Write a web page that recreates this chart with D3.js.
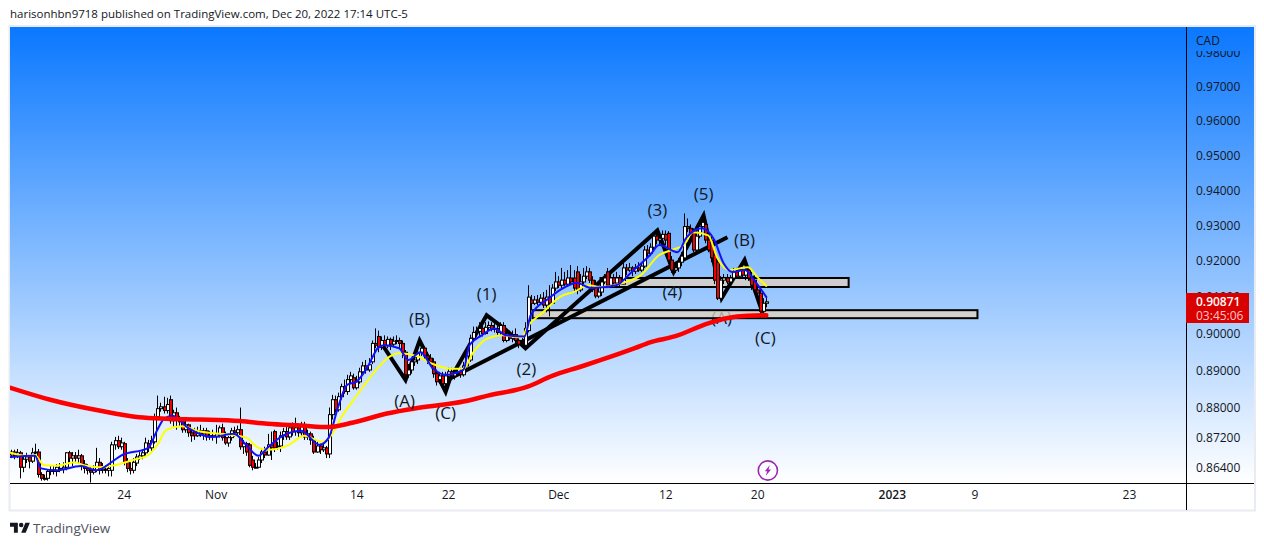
<!DOCTYPE html>
<html><head><meta charset="utf-8">
<script src="https://cdn.jsdelivr.net/npm/d3@7"></script>
<style>html,body{margin:0;padding:0;background:#fff;overflow:hidden}svg{display:block}text{font-family:"Open Sans",sans-serif}</style>
</head><body><svg id="c" width="1264" height="546"></svg>
<script>
// all prices in 1e-4 units of CAD
const opens=[8674,8682,8672,8680,8642,8663,8669,8658,8680,8682,8623,8613,8613,8631,8634,8631,8639,8637,8642,8680,8666,8672,8666,8672,8650,8639,8634,8629,8634,8655,8634,8637,8634,8634,8701,8712,8696,8704,8655,8639,8634,8653,8666,8672,8680,8704,8693,8709,8776,8797,8802,8792,8821,8765,8786,8768,8762,8741,8754,8733,8733,8725,8738,8730,8738,8722,8725,8722,8730,8746,8720,8706,8720,8738,8733,8741,8696,8704,8701,8661,8642,8642,8661,8682,8674,8701,8736,8698,8698,8725,8736,8722,8746,8736,8746,8733,8749,8722,8730,8714,8682,8698,8688,8693,8677,8781,8821,8794,8829,8856,8843,8875,8880,8853,8869,8896,8912,8901,8923,8973,8992,8963,8981,8968,8984,8971,8979,8981,8973,8949,8888,8901,8923,8928,8949,8960,8939,8933,8923,8891,8875,8885,8864,8885,8896,8885,8893,8896,8888,8912,8928,8987,9003,9006,9014,9000,9017,9022,9011,9014,9003,9022,8981,8997,8987,8997,8981,8971,8968,9008,9092,9083,9092,9086,9097,9078,9100,9083,9125,9142,9133,9147,9136,9153,9153,9170,9120,9142,9158,9170,9147,9131,9103,9114,9142,9170,9133,9153,9139,9153,9136,9181,9175,9181,9172,9181,9175,9186,9231,9222,9239,9270,9259,9264,9275,9278,9203,9175,9181,9197,9209,9297,9292,9281,9231,9270,9297,9303,9259,9259,9217,9197,9097,9147,9153,9142,9153,9170,9158,9175,9161,9175,9158,9147,9120,9111,9061,9083];
const closes=[8682,8672,8680,8642,8663,8669,8658,8680,8682,8623,8613,8613,8631,8634,8631,8642,8637,8642,8680,8666,8672,8666,8672,8650,8639,8634,8629,8634,8655,8634,8637,8634,8639,8701,8712,8696,8706,8655,8639,8634,8655,8669,8672,8680,8706,8693,8712,8776,8797,8802,8792,8808,8765,8786,8768,8762,8741,8754,8733,8725,8725,8738,8730,8738,8722,8725,8722,8730,8746,8720,8706,8720,8738,8733,8741,8696,8704,8682,8647,8642,8642,8661,8682,8674,8701,8693,8693,8698,8725,8736,8722,8746,8736,8746,8733,8749,8722,8730,8714,8682,8698,8688,8693,8677,8781,8821,8794,8829,8856,8843,8875,8885,8853,8869,8896,8912,8901,8915,8973,8968,8963,8981,8968,8984,8971,8979,8981,8973,8949,8888,8901,8923,8928,8949,8960,8939,8933,8923,8891,8869,8885,8864,8885,8896,8885,8893,8896,8888,8912,8939,8987,9003,9006,9014,9000,9017,9022,9011,9014,9003,9022,8981,8997,8987,8997,8981,8971,8973,9014,9100,9083,9092,9086,9097,9078,9100,9083,9125,9142,9133,9147,9136,9153,9142,9125,9120,9142,9158,9170,9147,9125,9103,9114,9142,9153,9133,9153,9139,9153,9136,9181,9175,9181,9172,9181,9175,9186,9231,9222,9239,9270,9259,9264,9275,9259,9203,9175,9181,9197,9214,9297,9292,9270,9231,9270,9297,9309,9259,9231,9209,9147,9097,9147,9153,9142,9153,9170,9158,9175,9161,9175,9153,9133,9120,9111,9061,9083,9087];
const highs=[8688,8688,8690,8685,8672,8680,8674,8693,8704,8690,8629,8623,8637,8645,8647,8650,8653,8655,8682,8685,8682,8682,8688,8677,8661,8650,8645,8647,8693,8666,8653,8647,8650,8709,8722,8725,8720,8709,8666,8655,8666,8677,8682,8688,8720,8714,8725,8784,8832,8813,8829,8826,8832,8794,8800,8778,8770,8768,8757,8741,8746,8749,8754,8746,8746,8738,8741,8754,8752,8757,8736,8725,8746,8749,8752,8800,8714,8709,8706,8672,8653,8669,8690,8696,8730,8736,8741,8709,8736,8746,8752,8752,8760,8773,8757,8762,8762,8741,8736,8725,8709,8704,8704,8698,8800,8834,8832,8840,8864,8875,8888,8896,8891,8885,8907,8923,8928,8933,8981,9014,9008,8992,8995,8992,8989,8992,8995,8989,8981,8955,8917,8933,8939,8965,8968,8965,8949,8944,8933,8901,8896,8896,8896,8907,8907,8901,8907,8907,8923,8949,8997,9019,9019,9031,9036,9031,9033,9031,9028,9025,9031,9031,9008,9008,9008,9014,8992,8989,9031,9133,9106,9103,9106,9108,9114,9120,9133,9136,9170,9158,9181,9170,9175,9189,9175,9186,9164,9181,9186,9181,9158,9147,9131,9153,9164,9181,9170,9164,9170,9161,9197,9192,9195,9186,9192,9197,9197,9242,9245,9250,9281,9281,9281,9286,9286,9284,9214,9197,9209,9225,9334,9320,9303,9292,9281,9309,9325,9320,9270,9270,9225,9209,9158,9164,9164,9161,9181,9181,9186,9189,9197,9181,9170,9161,9133,9125,9097,9100];
const lows=[8666,8663,8666,8613,8629,8653,8639,8653,8672,8615,8607,8607,8607,8621,8623,8618,8629,8626,8634,8655,8645,8653,8653,8634,8626,8623,8602,8623,8629,8623,8626,8626,8618,8618,8688,8690,8688,8647,8629,8623,8626,8645,8661,8663,8672,8682,8680,8704,8768,8789,8784,8784,8757,8746,8741,8749,8733,8733,8722,8709,8714,8722,8722,8714,8712,8714,8712,8704,8720,8712,8701,8696,8712,8722,8725,8688,8677,8672,8642,8634,8639,8639,8653,8666,8672,8661,8682,8688,8682,8714,8714,8714,8725,8725,8722,8725,8714,8714,8701,8677,8680,8677,8682,8666,8666,8768,8786,8789,8821,8837,8834,8864,8848,8848,8864,8891,8891,8896,8917,8960,8949,8955,8960,8960,8955,8965,8971,8960,8933,8880,8880,8891,8912,8917,8939,8928,8917,8912,8880,8859,8864,8853,8848,8875,8875,8875,8885,8880,8883,8907,8923,8981,8992,8992,8992,8997,9008,9006,9003,8992,8997,8976,8976,8981,8976,8968,8960,8965,8963,9003,9064,9078,9078,9081,9070,9058,9047,9081,9117,9125,9125,9131,9128,9136,9114,9108,9114,9136,9150,9139,9114,9097,9097,9103,9136,9125,9125,9131,9125,9131,9136,9161,9170,9158,9164,9170,9170,9181,9209,9214,9231,9247,9247,9253,9245,9192,9167,9167,9170,9186,9203,9281,9259,9225,9225,9264,9292,9250,9225,9197,9136,9092,9092,9136,9136,9131,9147,9153,9150,9153,9147,9145,9120,9114,9100,9042,9053,9072];

const redBars=[0,13,29,42,51,62,75,84,95,104,112,123,134,148,156,169,177,186,193,204,209,217,228,234,241,247];
const redVals=[8853,8821,8792,8774,8770,8768,8764,8757,8752,8748,8760,8784,8800,8816,8832,8856,8885,8909,8928,8960,8976,8992,9028,9042,9049,9050];
const yellowBars=[0,5,8,11,15,21,24,29,34,40,45,48,51,56,62,71,77,81,84,91,96,102,105,108,111,115,120,124,127,133,138,144,148,151,156,161,167,169,174,180,184,189,193,200,206,212,216,220,223,228,231,235,241,244,247];
const yellowVals=[8680,8672,8674,8647,8646,8655,8647,8642,8647,8661,8674,8701,8741,8750,8736,8728,8720,8693,8688,8701,8725,8709,8728,8773,8808,8853,8906,8938,8946,8938,8917,8904,8904,8946,8987,8995,8989,9019,9058,9103,9114,9133,9128,9139,9161,9217,9231,9245,9281,9272,9209,9175,9183,9156,9131];
const blueBars=[0,8,10,15,23,28,34,36,45,48,50,53,58,66,73,77,81,84,88,95,101,104,107,110,113,117,120,122,127,130,134,138,142,148,150,154,158,162,168,170,176,180,185,190,198,203,209,212,218,221,226,230,233,236,240,243,247];
const blueVals=[8669,8672,8639,8634,8645,8634,8661,8672,8693,8741,8768,8778,8746,8722,8730,8701,8672,8693,8720,8738,8701,8720,8800,8861,8869,8914,8960,8968,8960,8928,8949,8906,8888,8901,8968,8995,9014,8995,8992,9050,9097,9122,9139,9125,9133,9170,9217,9245,9225,9267,9292,9259,9195,9170,9175,9147,9100];

const waveBars=[121.6,129.1,133.7,142.2,143.5,155.6,161.8,168.3,211.4,216.7,226.5,232.4,239.9,245.8];
const waveVals=[8968,8874,8981,8842,8874,9050,9011,8960,9286,9170,9328,9097,9203,9056];
const trendBars=[142.2,234.3];
const trendVals=[8872,9267];
const zoneBars=[[192.8,273.9],[170.6,316]];
const zoneVals=[[9153,9128],[9064,9042]];
const labelTexts=["(1)","(B)","(A)","(C)","(2)","(3)","(4)","(5)","(B)","(C)"];
const labelBars=[155.6,133.7,128.8,142.2,168.6,211.4,216.3,226.5,239.9,246.7];
const labelVals=[9108,9039,8818,8786,8904,9345,9114,9390,9259,8987];
const hiddenLabel={text:"(A)",bar:232.4,val:9042};

const priceTicks=[0.98,0.97,0.96,0.95,0.94,0.93,0.92,0.91,0.90,0.89,0.88,0.872,0.864];
const timeLabels=["24","Nov","14","22","Dec","12","20","2023","9","23"];
const timeBars=[37,67,113,143,179,214,244,288,315,365.5];
const lastPrice="0.90871", countdown="03:45:06", currency="CAD";
const title="harisonhbn9718 published on TradingView.com, Dec 20, 2022 17:14 UTC-5";

const L=10,R=1254,T=27,B=483,AX=1186,BOT=510;
const svg=d3.select("#c");
const x=d3.scaleLinear().domain([0,1]).range([10.5,13.56]);
const y=d3.scaleLog().domain([0.864,0.98]).range([468,53]);
const P=v=>y(v/10000);

const defs=svg.append("defs");
const g=defs.append("linearGradient").attr("id","bg").attr("x1",0).attr("x2",0).attr("y1",0).attr("y2",1);
g.append("stop").attr("offset",0).attr("stop-color","#0a78ff");
g.append("stop").attr("offset",1).attr("stop-color","#ffffff");
defs.append("clipPath").attr("id","plot").append("rect").attr("x",L).attr("y",T).attr("width",AX-L).attr("height",B-T);
defs.append("clipPath").attr("id","ax").append("rect").attr("x",AX).attr("y",51).attr("width",R-AX).attr("height",B-51);

svg.append("text").attr("x",10).attr("y",18).attr("font-size",11.5).attr("fill","#131722").text(title);
svg.append("rect").attr("x",L-.5).attr("y",T-1).attr("width",R-L+1.5).attr("height",BOT-T+1.5).attr("fill","#fff").attr("stroke","#e8ebf2").attr("stroke-width",2);
svg.append("rect").attr("x",L).attr("y",T).attr("width",R-L).attr("height",B-T).attr("fill","url(#bg)");

const plot=svg.append("g").attr("clip-path","url(#plot)");
const lbl=(sel,t,b,v)=>sel.append("text").attr("x",x(b)).attr("y",P(v)+6).attr("text-anchor","middle").attr("font-size",17).attr("fill","#131722").text(t);
lbl(plot,hiddenLabel.text,hiddenLabel.bar,hiddenLabel.val);
zoneBars.forEach((b,k)=>{
  plot.append("rect").attr("x",x(b[0])).attr("y",P(zoneVals[k][0])).attr("width",x(b[1])-x(b[0])).attr("height",P(zoneVals[k][1])-P(zoneVals[k][0])).attr("fill","rgb(226,210,190)").attr("fill-opacity",.75).attr("stroke","#000").attr("stroke-width",2);
});
const line=(bars,vals,col,w)=>plot.append("path").attr("d",d3.line().x(d=>x(d[0])).y(d=>P(d[1])).curve(d3.curveMonotoneX)(bars.map((b,i)=>[b,vals[i]]))).attr("fill","none").attr("stroke",col).attr("stroke-width",w).attr("stroke-linecap","round");
const poly=(bars,vals,w)=>plot.append("path").attr("d",d3.line().x(d=>x(d[0])).y(d=>P(d[1]))(bars.map((b,i)=>[b,vals[i]]))).attr("fill","none").attr("stroke","#000").attr("stroke-width",w).attr("stroke-linejoin","miter");
poly(waveBars,waveVals,4);
poly(trendBars,trendVals,4);
const idx=d3.range(closes.length);
const cg=plot.append("g");
cg.selectAll("line").data(idx).join("line").attr("x1",i=>Math.round(x(i))+.5).attr("x2",i=>Math.round(x(i))+.5).attr("y1",i=>P(highs[i])).attr("y2",i=>P(lows[i])).attr("stroke","#000").attr("stroke-width",1);
cg.selectAll("rect").data(idx).join("rect").attr("x",i=>Math.round(x(i))-.5).attr("width",3).attr("y",i=>Math.min(P(opens[i]),P(closes[i]))).attr("height",i=>Math.max(1,Math.abs(P(opens[i])-P(closes[i])))).attr("fill",i=>closes[i]>=opens[i]?"#fff":"#f00000").attr("stroke","#000").attr("stroke-width",1);
line(yellowBars,yellowVals,"#ffff00",2);
line(blueBars,blueVals,"#1010ff",2);
line(redBars,redVals,"#ff0000",4.5);
labelTexts.forEach((t,i)=>lbl(plot,t,labelBars[i],labelVals[i]));

// bolt marker
const mx=x(247.5),my=470.5;
svg.append("circle").attr("cx",mx).attr("cy",my).attr("r",9.6).attr("fill","#ffffff").attr("fill-opacity",.6).attr("stroke","#9c27b0").attr("stroke-width",1.6);
svg.append("path").attr("transform",`translate(${mx},${my})`).attr("d","M2,-5.5 L-3,.8 L-.6,.8 L-2.2,5.5 L3.2,-1 L.6,-1 Z").attr("fill","#9c27b0");

// axes
const ay=svg.append("g").attr("clip-path","url(#ax)");
const axisY=d3.axisRight(y).tickValues(priceTicks).tickFormat(d3.format(".5f")).tickSize(0).tickPadding(10);
const ayg=ay.append("g").attr("transform",`translate(${AX},0)`).call(axisY);
ayg.select(".domain").remove();
ayg.selectAll("text").attr("font-size",12).attr("fill","#131722").style("font-family",'"Open Sans",sans-serif');
const tickPos=d3.scaleOrdinal().domain(timeBars).range(timeLabels);
const axisX=d3.axisBottom(x).tickValues(timeBars).tickFormat(d=>tickPos(d)).tickSize(0).tickPadding(7);
const axg=svg.append("g").attr("transform",`translate(0,${B})`).call(axisX);
axg.select(".domain").remove();
axg.selectAll("text").attr("font-size",12).attr("fill","#131722").attr("font-weight",d=>tickPos(d)==="2023"?600:400).style("font-family",'"Open Sans",sans-serif');

svg.append("text").attr("x",AX+10).attr("y",45).attr("font-size",12).attr("fill","#131722").text(currency);
svg.append("line").attr("x1",L).attr("x2",R).attr("y1",B+.5).attr("y2",B+.5).attr("stroke","#000");
svg.append("line").attr("x1",AX+.5).attr("x2",AX+.5).attr("y1",T).attr("y2",BOT).attr("stroke","#000");

// last price tag
svg.append("rect").attr("x",AX).attr("y",293).attr("width",63).attr("height",30).attr("fill","#d90000");
svg.append("text").attr("x",AX+10).attr("y",306).attr("font-size",12).attr("font-weight",600).attr("fill","#fff").text(lastPrice);
svg.append("text").attr("x",AX+10).attr("y",320).attr("font-size",12).attr("fill","#ffc4c4").text(countdown);

// logo
const logo=svg.append("g").attr("transform","translate(10,520.5) scale(.56)").attr("fill","#131722");
logo.append("path").attr("d","M14 22H7V11H0V4h14v18zM28 22h-8l7.5-18h8L28 22z");
logo.append("circle").attr("cx",20).attr("cy",8).attr("r",4);
svg.append("text").attr("x",33).attr("y",533).attr("font-size",13.5).attr("fill","#50535e").text("TradingView");
</script></body></html>
